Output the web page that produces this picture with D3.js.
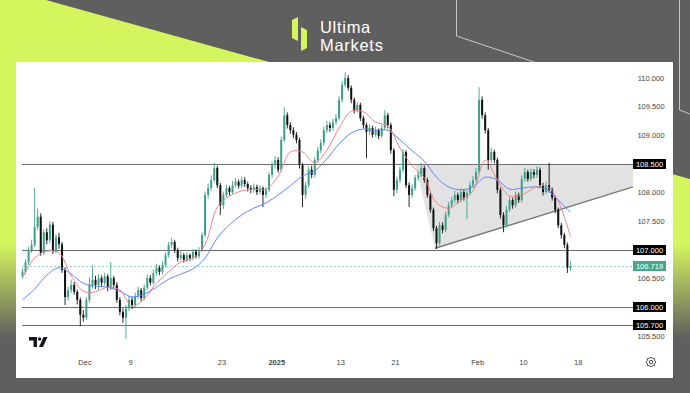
<!DOCTYPE html>
<html><head><meta charset="utf-8">
<script src="https://cdn.jsdelivr.net/npm/d3@7"></script>
<style>html,body{margin:0;padding:0;background:#5f5f5f;} svg{display:block;}</style>
</head><body>
<svg id="c" width="690" height="393"></svg>
<script>
// ---------- DATA ----------
const firstOpen = 106.55;
const closes = [
106.62,106.79,107.00,107.09,107.40,107.58,106.95,107.31,107.17,107.44,
106.98,107.22,107.10,106.65,106.18,106.30,106.39,106.27,106.13,105.87,
105.82,106.13,106.39,106.48,106.39,106.51,106.43,106.54,106.34,106.51,
106.39,106.13,105.92,105.82,105.98,106.13,106.04,106.20,106.30,106.16,
106.34,106.51,106.43,106.60,106.69,106.62,106.74,106.91,107.09,107.14,
107.00,106.86,106.91,106.83,106.91,106.86,106.97,106.89,107.00,107.26,
107.96,108.08,108.22,108.43,108.13,107.78,107.96,108.08,108.01,108.13,
108.19,108.12,108.22,108.15,108.08,108.05,108.10,108.01,108.08,107.96,
108.05,108.31,108.48,108.57,108.40,108.92,109.35,109.18,109.09,109.01,
108.92,108.48,107.96,108.13,108.40,108.31,108.57,108.74,108.87,109.09,
109.18,109.13,109.23,109.30,109.62,109.88,110.00,109.83,109.62,109.44,
109.53,109.30,109.18,109.06,109.13,109.01,109.09,108.99,109.13,109.35,
109.18,108.74,108.05,108.22,108.40,108.71,108.13,107.96,108.08,108.26,
108.31,108.43,108.22,107.96,107.70,107.38,107.12,107.43,107.35,107.61,
107.78,107.87,107.96,107.87,108.01,107.91,108.00,108.13,108.22,108.36,
109.62,109.35,109.09,108.57,108.71,108.57,108.05,107.61,107.43,107.70,
107.87,107.78,107.96,107.87,108.24,108.36,108.24,108.36,108.31,108.40,
108.13,108.01,108.13,108.05,107.91,107.70,107.43,107.26,107.09,106.69,
106.72];
const highs = [
106.68,106.84,107.05,107.18,108.08,107.72,107.64,107.36,107.38,107.50,
107.49,107.28,107.30,107.14,106.70,106.36,106.48,106.44,106.31,106.17,
105.95,106.18,106.52,106.73,106.55,106.58,106.56,106.60,106.58,106.79,
106.55,106.44,106.18,105.98,106.04,106.20,106.18,106.26,106.36,106.34,
106.40,106.57,106.56,106.66,106.76,106.73,106.80,106.96,107.14,107.21,
107.18,107.04,106.98,106.95,106.96,106.94,107.02,107.01,107.05,107.31,
108.02,108.16,108.30,108.52,108.47,108.17,108.02,108.14,108.12,108.20,
108.26,108.23,108.28,108.27,108.19,108.13,108.16,108.14,108.13,108.11,
108.10,108.36,108.54,108.64,108.62,108.98,109.49,109.40,109.23,109.14,
109.06,108.96,108.52,108.19,108.46,108.47,108.62,108.80,108.93,109.15,
109.25,109.23,109.29,109.37,109.68,109.95,110.10,110.05,109.87,109.66,
109.58,109.57,109.34,109.22,109.19,109.17,109.15,109.12,109.18,109.44,
109.39,109.22,108.78,108.28,108.46,108.76,108.74,108.18,108.14,108.31,
108.37,108.52,108.47,108.26,108.00,107.74,107.42,107.49,107.48,107.67,
107.84,107.93,108.03,108.00,108.07,108.05,108.05,108.19,108.29,108.43,
109.84,109.68,109.40,109.13,108.78,108.75,108.61,108.09,107.66,107.76,
107.93,107.91,108.02,108.00,108.30,108.43,108.40,108.42,108.41,108.46,
108.44,108.17,108.19,108.52,108.09,107.95,107.74,107.47,107.30,107.13,
106.80];
const lows = [
106.50,106.58,106.74,106.95,107.05,107.35,106.90,106.91,107.10,107.12,
106.93,106.94,107.02,106.60,106.04,106.12,106.25,106.22,106.05,105.67,
105.75,105.78,106.08,106.33,106.32,106.30,106.36,106.38,106.28,106.30,
106.33,106.08,105.86,105.73,105.45,105.93,105.97,105.99,106.15,106.10,
106.12,106.30,106.38,106.40,106.55,106.56,106.58,106.70,106.87,107.03,
106.95,106.80,106.82,106.78,106.79,106.81,106.82,106.85,106.85,106.96,
107.22,107.90,108.03,108.18,108.08,107.61,107.72,107.92,107.95,107.97,
108.09,108.07,108.08,108.10,108.02,107.99,108.00,107.96,107.97,107.75,
107.91,108.01,108.26,108.42,108.35,108.36,108.88,109.12,109.03,108.95,
108.86,108.42,107.75,107.90,108.08,108.25,108.27,108.52,108.69,108.82,
109.04,109.06,109.08,109.18,109.26,109.57,109.84,109.78,109.56,109.38,
109.40,109.25,109.12,108.60,109.01,108.96,108.97,108.93,108.95,109.09,
109.12,108.68,107.94,107.99,108.17,108.35,108.08,107.75,107.91,108.03,
108.21,108.27,108.17,107.91,107.65,107.33,107.02,107.08,107.29,107.31,
107.57,107.73,107.82,107.81,107.83,107.86,107.54,107.96,108.08,108.17,
108.32,109.29,109.03,108.40,108.52,108.51,107.99,107.55,107.31,107.39,
107.66,107.72,107.74,107.82,107.83,108.19,108.19,108.20,108.25,108.26,
108.08,107.95,107.97,108.00,107.86,107.64,107.38,107.20,107.03,106.60,
106.64];
// moving averages sampled every 4th candle
const maFast = [106.51,106.86,106.98,106.95,106.55,106.28,106.27,106.35,106.30,106.02,
106.15,106.42,106.62,106.79,106.86,107.10,107.75,107.94,108.03,108.06,
108.06,108.29,108.71,108.71,108.52,108.74,109.13,109.42,109.41,109.23,
109.16,108.78,108.47,108.26,107.82,107.73,107.87,108.03,108.57,108.22,
107.94,107.96,108.08,108.12,107.85,107.23];
const maSlow = [106.13,106.32,106.56,106.69,106.58,106.42,106.37,106.35,106.28,106.18,
106.23,106.35,106.49,106.58,106.67,106.86,107.21,107.44,107.61,107.73,
107.82,107.96,108.12,108.29,108.38,108.59,108.85,109.04,109.11,109.09,
109.09,108.92,108.73,108.55,108.27,108.10,108.05,108.10,108.27,108.22,
108.06,108.08,108.10,108.06,107.87,107.66];
const levels = [108.5, 107.0, 106.0, 105.7];
const levelLabels = ["108.500","107.000","106.000","105.700"];
const lastPrice = 106.719;
const priceTicks = [105.5,106.5,107.5,108,109,109.5,110];
const dateTickDays = [0,5,15,21,28,34,43,48,54];
const dateTickLabels = ["Dec","9","23","2025","13","21","Feb","10","18"];
// triangle pattern anchors: [trading day, price]
const triTop = [[36.15,108.5],[60,108.5]];
const triBottom = [[38.33,107.03],[60,108.10]];

// ---------- LAYOUT ----------
const W = 690, H = 393;
const plot = {l:22, r:633, t:62, b:378};
const svg = d3.select("#c");
const defs = svg.append("defs");

// background decorations
svg.append("rect").attr("width",W).attr("height",H).attr("fill","#5f5f5f");
const g = defs.append("linearGradient").attr("id","lg").attr("gradientUnits","userSpaceOnUse")
  .attr("x1",0).attr("y1",0).attr("x2",0).attr("y2",H);
g.append("stop").attr("offset",0).attr("stop-color","#d4f55e").attr("stop-opacity",1);
g.append("stop").attr("offset",0.62).attr("stop-color","#d4f55e").attr("stop-opacity",1);
g.append("stop").attr("offset",0.86).attr("stop-color","#d4f55e").attr("stop-opacity",0);
svg.append("path").attr("d",`M0,0 L46,0 L${W},${0.278*(W-46)} L${W},${H} L0,${H} Z`).attr("fill","url(#lg)");
svg.append("path").attr("d","M456.5,0 V36 L537,63").attr("fill","none").attr("stroke","#c8c8c8").attr("stroke-width",1);
svg.append("path").attr("d","M679.5,0 V110 L690,114").attr("fill","none").attr("stroke","#c8c8c8").attr("stroke-width",1);

// logo
svg.append("path").attr("d","M292,20 L298,17 L298,41 L292,38 Z").attr("fill","#d4f55e");
svg.append("path").attr("d","M301,27 L307,30 L307,48 L301,51 Z").attr("fill","#d4f55e");
svg.append("text").attr("x",320).attr("y",32.5).text("Ultima")
  .attr("font-family","'Liberation Sans', Arial, sans-serif").attr("font-size",16.5)
  .attr("letter-spacing",0.7).attr("fill","#fff");
svg.append("text").attr("x",320).attr("y",51).text("Markets")
  .attr("font-family","'Liberation Sans', Arial, sans-serif").attr("font-size",16.5)
  .attr("letter-spacing",0.7).attr("fill","#fff");

// white panel
svg.append("rect").attr("x",16).attr("y",62).attr("width",657).attr("height",316).attr("fill","#ffffff");

// scales
const x = d3.scaleLinear().domain([-6.9, 60]).range([plot.l, plot.r]);
const y = d3.scaleLinear().domain([105.5, 110]).range([336, 78]);
const candleDay = i => -6.85 + i/3;
const maDay = k => -6.85 + 4*k/3;

// triangle pattern fill
const poly = [triTop[0], triTop[1], triBottom[1], triBottom[0]];
svg.append("path").attr("d", "M" + poly.map(p => [x(p[0]), y(p[1])].join(",")).join("L") + "Z")
  .attr("fill","#e2e2e2").attr("stroke","none");

// level lines
svg.selectAll("line.lvl").data(levels).enter().append("line")
  .attr("x1",plot.l).attr("x2",plot.r).attr("y1",d=>Math.round(y(d))+0.5).attr("y2",d=>Math.round(y(d))+0.5)
  .attr("stroke","#6e6e6e").attr("stroke-width",1);
// last price dotted line
svg.append("line").attr("x1",plot.l).attr("x2",plot.r)
  .attr("y1",Math.round(y(lastPrice))+0.5).attr("y2",Math.round(y(lastPrice))+0.5)
  .attr("stroke","#9ed6c6").attr("stroke-width",1).attr("stroke-dasharray","2,2");
// triangle bottom line
svg.append("line").attr("x1",x(triBottom[0][0])).attr("y1",y(triBottom[0][1]))
  .attr("x2",x(triBottom[1][0])).attr("y2",y(triBottom[1][1]))
  .attr("stroke","#7a7a7a").attr("stroke-width",1.4);

// candles
const up = "#3ea08a", dn = "#111111";
const cg = svg.append("g");
closes.forEach((c,i) => {
  const o = i === 0 ? firstOpen : closes[i-1];
  const cx = x(candleDay(i));
  const col = c >= o ? up : dn;
  cg.append("line").attr("x1",cx).attr("x2",cx).attr("y1",y(highs[i])).attr("y2",y(lows[i]))
    .attr("stroke",col).attr("stroke-width",0.9);
  const top = y(Math.max(o,c)), bot = y(Math.min(o,c));
  cg.append("rect").attr("x",cx-1).attr("width",2).attr("y",top).attr("height",Math.max(1,bot-top)).attr("fill",col);
});

// moving averages
const lineGen = d3.line().x((d,k)=>x(maDay(k))).y(d=>y(d)).curve(d3.curveCatmullRom.alpha(0.5));
svg.append("path").attr("d",lineGen(maSlow)).attr("fill","none").attr("stroke","#6285f5").attr("stroke-width",1);
svg.append("path").attr("d",lineGen(maFast)).attr("fill","none").attr("stroke","#f28387").attr("stroke-width",1);

// price axis labels
const font = "'Liberation Sans', Arial, sans-serif";
svg.selectAll("text.pt").data(priceTicks).enter().append("text")
  .attr("x",651).attr("y",d=>y(d)+2.6).attr("text-anchor","middle")
  .attr("font-family",font).attr("font-size",7.5).attr("fill","#444").text(d=>d.toFixed(3));
levels.forEach((lv,i) => {
  const yy = Math.round(y(lv));
  svg.append("rect").attr("x",633).attr("y",yy-5).attr("width",33).attr("height",10).attr("fill","#000");
  svg.append("text").attr("x",649.5).attr("y",yy+2.7).attr("text-anchor","middle")
    .attr("font-family",font).attr("font-size",7.5).attr("fill","#fff").text(levelLabels[i]);
});
{
  const yy = Math.round(y(lastPrice));
  svg.append("rect").attr("x",633).attr("y",yy-5).attr("width",33).attr("height",10).attr("fill","#3fa98e");
  svg.append("text").attr("x",649.5).attr("y",yy+2.7).attr("text-anchor","middle")
    .attr("font-family",font).attr("font-size",7.5).attr("fill","#fff").text(lastPrice.toFixed(3));
}

// date axis
svg.selectAll("text.dt").data(dateTickDays).enter().append("text")
  .attr("x",d=>x(d)).attr("y",365).attr("text-anchor","middle")
  .attr("font-family",font).attr("font-size",7.5).attr("fill","#444")
  .attr("font-weight",(d,i)=>dateTickLabels[i]==="2025"?"bold":"normal")
  .text((d,i)=>dateTickLabels[i]);

// TradingView logo
const tv = svg.append("g").attr("fill","#131722");
tv.append("path").attr("d","M29,337 H37 V347 H33.5 V340.5 H29 Z");
tv.append("circle").attr("cx",39.6).attr("cy",339).attr("r",1.7);
tv.append("path").attr("d","M43.5,337 H47.5 L43,347 H39 Z");

// gear icon
const gx = 651, gy = 362;
const gear = [];
for (let k=0;k<16;k++){ const a = k*Math.PI/8; const r = k%2===0?5:4; gear.push([gx+r*Math.cos(a), gy+r*Math.sin(a)]); }
svg.append("path").attr("d","M"+gear.map(p=>p.join(",")).join("L")+"Z").attr("fill","none").attr("stroke","#333").attr("stroke-width",0.9);
svg.append("circle").attr("cx",gx).attr("cy",gy).attr("r",1.8).attr("fill","none").attr("stroke","#333").attr("stroke-width",0.9);
</script>
</body></html>
